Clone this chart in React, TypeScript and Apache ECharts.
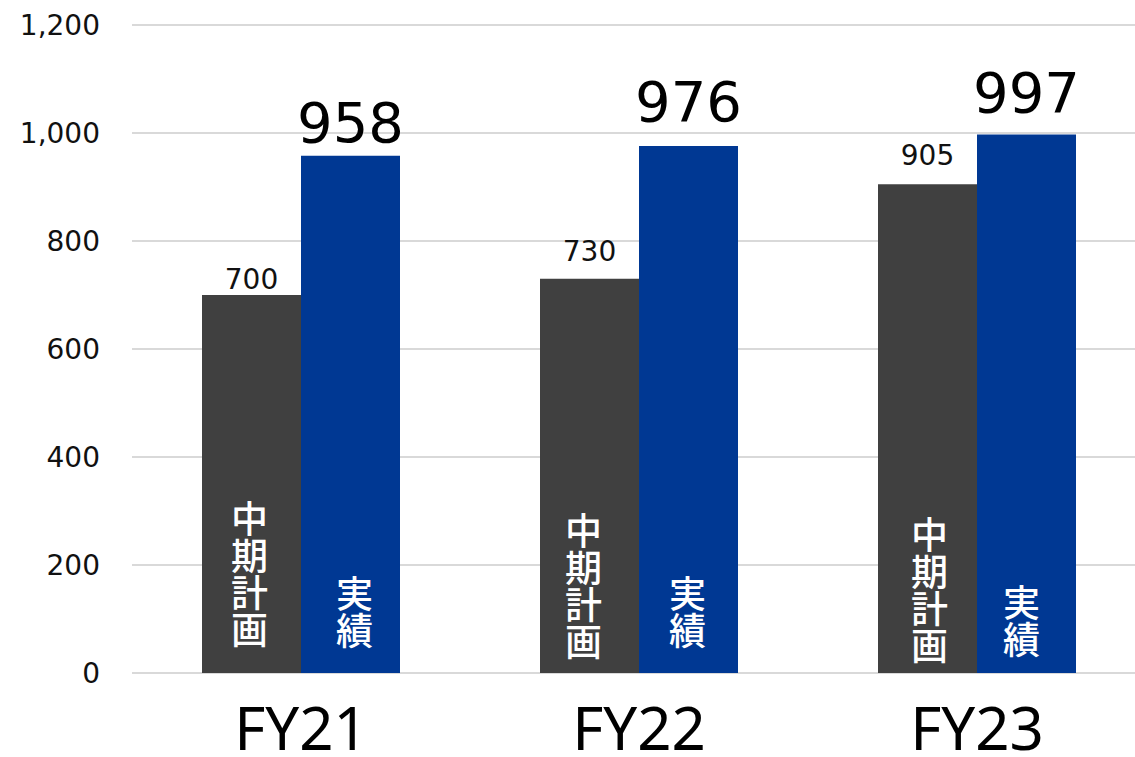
import React, { useEffect, useRef } from "react";
import * as echarts from "echarts";

const categories = ["FY21", "FY22", "FY23"];
const planValues = [700, 730, 905];
const actualValues = [958, 976, 997];
const zeroValues = [0, 0, 0];
const planLabel = "中\n期\n計\n画";
const actualLabel = "実\n績";

// label placement tweaks (styles, not data)
const planTopDist = [2, 13, 15];
const actualTopDist = [5, 16, 14];
const planInnerDist = [27, 15, 11];
const planInnerOffsetX = [-2, -6, 2];
const actualInnerDist = [26, 26, 17];
const actualInnerOffsetX = [4, -1, -5];

const NUM_FONT = "'DejaVu Sans', sans-serif";
const LAT_FONT = "'Noto Sans', sans-serif";
const CJK_FONT = "'Noto Sans CJK JP', sans-serif";

export default function App() {
  const ref = useRef<HTMLDivElement>(null);
  useEffect(() => {
    if (!ref.current) return;
    const chart = echarts.init(ref.current, null, { renderer: "svg" });
    chart.setOption({
      animation: false,
      textStyle: { fontFamily: NUM_FONT },
      grid: { left: 132, right: 0, top: 25, bottom: 81, containLabel: false },
      xAxis: {
        type: "category",
        data: categories,
        axisLine: { show: false },
        axisTick: { show: false },
        axisLabel: { fontSize: 60, color: "#000", margin: 24, fontFamily: LAT_FONT },
      },
      yAxis: {
        type: "value",
        min: 0,
        max: 1200,
        interval: 200,
        axisLine: { show: false },
        axisTick: { show: false },
        splitLine: { lineStyle: { color: "#d9d9d9", width: 2 } },
        axisLabel: {
          fontSize: 28,
          color: "#111",
          margin: 32,
          fontFamily: NUM_FONT,
          formatter: (v: number) => v.toLocaleString("en-US"),
        },
      },
      series: [
        {
          type: "bar",
          name: "中期計画",
          stack: "plan",
          data: planValues.map((v, i) => ({
            value: v,
            label: { distance: planInnerDist[i], offset: [planInnerOffsetX[i], 0] },
          })),
          barWidth: 99,
          barGap: "0%",
          itemStyle: { color: "#404040" },
          label: {
            show: true,
            position: "insideBottom",
            formatter: () => planLabel,
            color: "#fff",
            fontSize: 37,
            lineHeight: 37,
            fontWeight: 500,
            fontFamily: CJK_FONT,
          },
        },
        {
          type: "bar",
          stack: "plan",
          data: zeroValues.map((v, i) => ({ value: v, label: { distance: planTopDist[i] } })),
          barWidth: 99,
          itemStyle: { color: "#404040" },
          label: {
            show: true,
            position: "top",
            formatter: (p: any) => String(planValues[p.dataIndex]),
            color: "#111",
            fontSize: 28,
            fontFamily: NUM_FONT,
          },
        },
        {
          type: "bar",
          name: "実績",
          stack: "actual",
          data: actualValues.map((v, i) => ({
            value: v,
            label: { distance: actualInnerDist[i], offset: [actualInnerOffsetX[i], 0] },
          })),
          barWidth: 99,
          barGap: "0%",
          itemStyle: { color: "#003893" },
          label: {
            show: true,
            position: "insideBottom",
            formatter: () => actualLabel,
            color: "#fff",
            fontSize: 37,
            lineHeight: 37,
            fontWeight: 500,
            fontFamily: CJK_FONT,
          },
        },
        {
          type: "bar",
          stack: "actual",
          data: zeroValues.map((v, i) => ({ value: v, label: { distance: actualTopDist[i] } })),
          barWidth: 99,
          itemStyle: { color: "#003893" },
          label: {
            show: true,
            position: "top",
            formatter: (p: any) => String(actualValues[p.dataIndex]),
            color: "#000",
            fontSize: 56,
            fontFamily: NUM_FONT,
          },
        },
      ],
    });
    return () => chart.dispose();
  }, []);
  return (
    <div
      style={{ position: "fixed", left: 0, top: 0, width: 1135, height: 757, overflow: "hidden", background: "#fff" }}
    >
      <div ref={ref} style={{ width: 1146, height: 757 }} />
    </div>
  );
}
